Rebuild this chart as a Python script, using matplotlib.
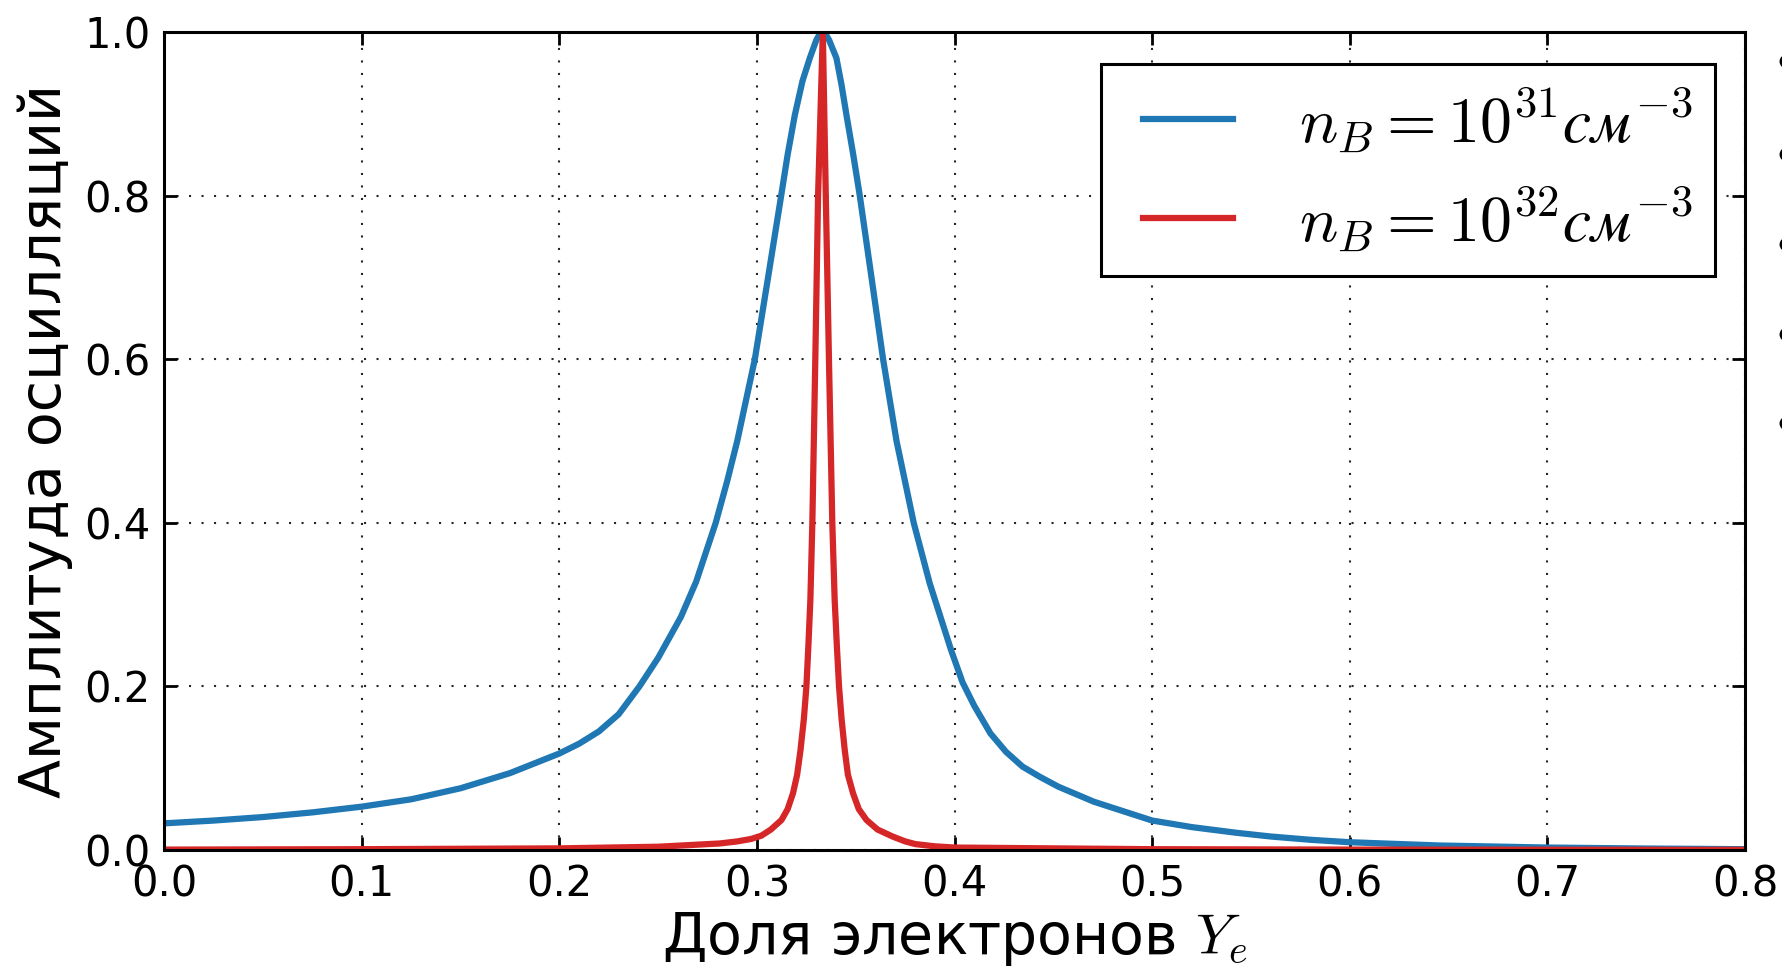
import matplotlib
matplotlib.use('Agg')
import matplotlib.pyplot as plt
from matplotlib.lines import Line2D
from matplotlib.legend_handler import HandlerLine2D

# values
blue_x = [0.0, 0.025, 0.05, 0.075, 0.1, 0.125, 0.15, 0.175, 0.2, 0.21, 0.22, 0.23,
          0.2405, 0.25, 0.2615, 0.2692, 0.2791, 0.2848, 0.29, 0.2989, 0.3056,
          0.3119, 0.3155, 0.3191, 0.323, 0.3267, 0.33, 0.3316, 0.3331, 0.3348,
          0.3365, 0.3402, 0.3428, 0.3453, 0.3487, 0.352, 0.3587, 0.3638, 0.3706,
          0.3793, 0.3874, 0.3935, 0.3982, 0.404, 0.41, 0.4181, 0.426, 0.4344,
          0.4435, 0.4525, 0.4705, 0.5, 0.52, 0.5428, 0.56, 0.58, 0.6, 0.6454,
          0.7, 0.75, 0.8]
blue_y = [0.0326, 0.036, 0.0403, 0.046, 0.053, 0.062, 0.0755, 0.094, 0.118, 0.13, 0.145, 0.166,
          0.2, 0.235, 0.285, 0.328, 0.4, 0.45, 0.5, 0.6, 0.70,
          0.795, 0.85, 0.898, 0.94, 0.968, 0.99, 0.997, 1.0, 0.997,
          0.99, 0.968, 0.935, 0.898, 0.85, 0.8, 0.687, 0.6, 0.5,
          0.4, 0.326, 0.28, 0.2445, 0.205, 0.176, 0.1426, 0.12, 0.1019,
          0.089, 0.0774, 0.059, 0.036, 0.028, 0.021, 0.0165, 0.0125, 0.0095, 0.0055,
          0.003, 0.0018, 0.001]

red_x = [0.0, 0.1, 0.2, 0.25, 0.2812, 0.29, 0.297, 0.3022, 0.307, 0.3124, 0.3155, 0.3182,
         0.3203, 0.3220, 0.3237, 0.3250, 0.326, 0.3270, 0.3280, 0.3295, 0.3309,
         0.3333, 0.3348, 0.3364, 0.3381, 0.3393, 0.3404, 0.3415, 0.3428, 0.3444,
         0.346, 0.3486, 0.3515, 0.3554, 0.361, 0.3688, 0.375, 0.3802, 0.39, 0.4,
         0.5, 0.6, 0.8]
red_y = [0.0005, 0.001, 0.002, 0.004, 0.008, 0.0105, 0.0135, 0.0175, 0.025, 0.0367, 0.05, 0.0693,
         0.092, 0.122, 0.16, 0.2, 0.25, 0.3056, 0.4, 0.6, 0.8,
         1.0, 0.8, 0.6, 0.4, 0.3056, 0.25, 0.2, 0.16, 0.122,
         0.092, 0.0693, 0.05, 0.0367, 0.025, 0.0163, 0.0105, 0.0072, 0.0045, 0.003,
         0.001, 0.0005, 0.0002]

labels = [r'$n_B = 10^{31} см^{-3}$', r'$n_B = 10^{32} см^{-3}$']
xticks = [0.0, 0.1, 0.2, 0.3, 0.4, 0.5, 0.6, 0.7, 0.8]
yticks = [0.0, 0.2, 0.4, 0.6, 0.8, 1.0]

plt.rcParams.update({
    'font.family': 'DejaVu Sans',
    'mathtext.fontset': 'cm',
    'font.size': 30,
    'xtick.direction': 'in',
    'ytick.direction': 'in',
    'xtick.top': True,
    'ytick.right': True,
    'xtick.major.size': 9.5,
    'ytick.major.size': 9.5,
    'xtick.major.width': 2,
    'ytick.major.width': 2,
    'xtick.major.pad': 10,
    'ytick.major.pad': 10,
    'axes.linewidth': 2.2,
})

fig = plt.figure(figsize=(17.83, 9.75), dpi=100)
ax = fig.add_axes([0.0921, 0.1282, 0.8866, 0.839])

ax.plot(blue_x, blue_y, color='#1f77b4', lw=4.5, label=labels[0])
ax.plot(red_x, red_y, color='#d62728', lw=4.5, label=labels[1])

ax.set_xlim(0, 0.8)
ax.set_ylim(0, 1.0)
ax.set_xticks(xticks)
ax.set_yticks(yticks)
ax.set_xticklabels([f'{v:.1f}' for v in xticks])
ax.set_yticklabels([f'{v:.1f}' for v in yticks])
ax.tick_params(labelsize=30)
ax.grid(True, color='0.15', linestyle=(0, (1, 5)), linewidth=1.5)

ax.set_xlabel(r'Доля электронов $Y_e$', fontsize=41, labelpad=3)
ax.set_ylabel('Амплитуда осцилляций', fontsize=41, labelpad=8)

# extra left room before the legend lines, as in the original
hmap = {Line2D: HandlerLine2D(xpad=0.3)}
leg = ax.legend(loc='upper right', bbox_to_anchor=(0.981, 0.961), borderaxespad=0,
                fontsize=46, fancybox=False, framealpha=1, edgecolor='black',
                handlelength=1.72, handletextpad=1.03, labelspacing=0.48,
                borderpad=0.35, handler_map=hmap)
leg.get_frame().set_linewidth(2.2)

# clipped markers of a neighbouring panel visible at the right edge
for yy in [61, 154, 244, 334, 423]:
    fig.add_artist(Line2D([1786 / 1783], [1 - yy / 975], marker='o', markersize=9,
                          color='black', transform=fig.transFigure, clip_on=False))

fig.savefig('out.png', dpi=100)
